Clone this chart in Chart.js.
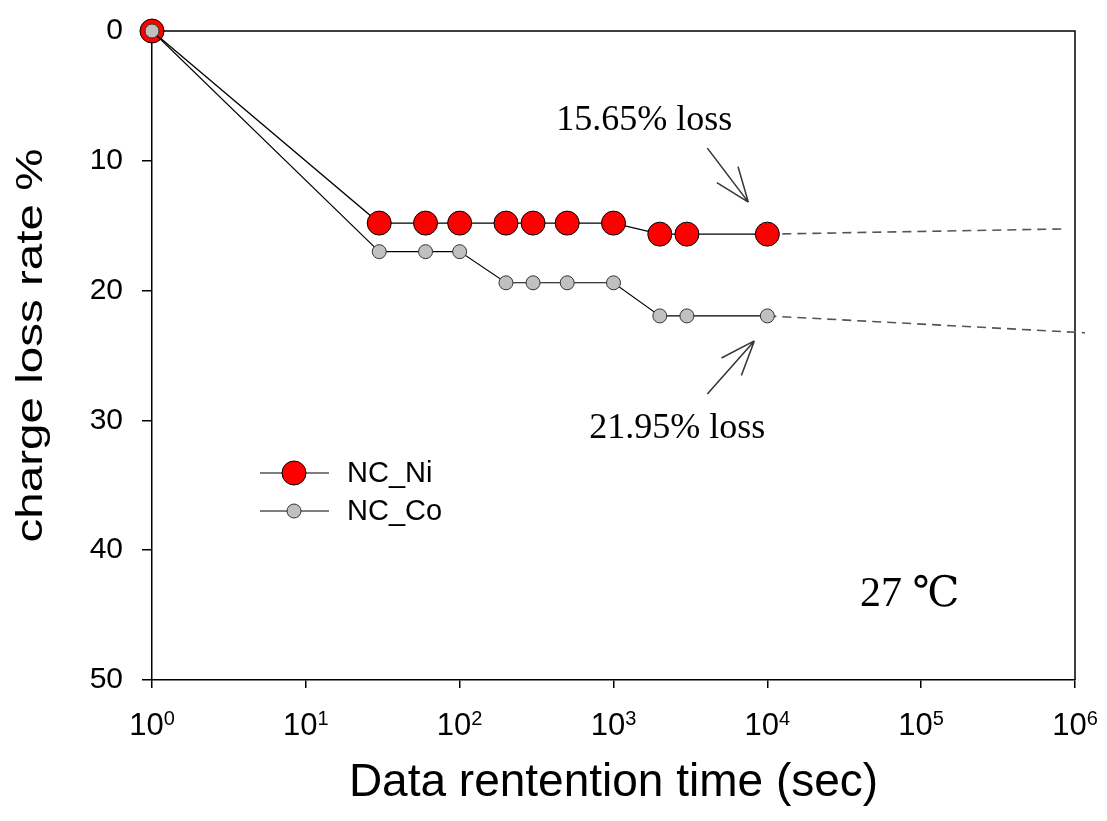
<!DOCTYPE html>
<html>
<head>
<meta charset="utf-8">
<script src="https://cdn.jsdelivr.net/npm/chart.js@4.4.1/dist/chart.umd.min.js"></script>
<style>
  html, body { margin: 0; padding: 0; background: #ffffff; }
  #wrap { width: 1107px; height: 821px; }
</style>
</head>
<body>
<div id="wrap"><canvas id="c" width="1107" height="821"></canvas></div>
<script>
// ---- data ----
const seriesNames = ['NC_Ni', 'NC_Co'];
const timeNi = [1, 30, 60, 100, 200, 300, 500, 1000, 2000, 3000, 10000];
const lossNi = [0, 14.8, 14.8, 14.8, 14.8, 14.8, 14.8, 14.8, 15.65, 15.65, 15.65];
const timeCo = [1, 30, 60, 100, 200, 300, 500, 1000, 2000, 3000, 10000];
const lossCo = [0, 17.0, 17.0, 17.0, 19.4, 19.4, 19.4, 19.4, 21.95, 21.95, 21.95];
const extTimeNi = [10000, 840000];
const extLossNi = [15.65, 15.25];
const extTimeCo = [10000, 1160000];
const extLossCo = [21.95, 23.25];
const yTickValues = [0, 10, 20, 30, 40, 50];
const xTickExponents = [0, 1, 2, 3, 4, 5, 6];
const annotationTexts = ['15.65% loss', '21.95% loss', '27 \u2103'];
const xTitle = 'Data rentention time (sec)';
const yTitle = 'charge loss rate %';

const SANS = "'Liberation Sans', Arial, sans-serif";
const SERIF = "'Liberation Serif', 'Times New Roman', 'DejaVu Serif', serif";

function pts(xs, ys) { return xs.map((x, i) => ({ x: x, y: ys[i] })); }

const niStyle = { fill: '#ff0000', stroke: '#000000', r: 12 };
const coStyle = { fill: '#c0c0c0', stroke: '#333333', r: 7 };

const decorPlugin = {
  id: 'decor',
  beforeDatasetsDraw(chart) {
    const { ctx, chartArea: a } = chart;
    ctx.save();
    ctx.strokeStyle = '#000';
    ctx.lineWidth = 1.5;
    ctx.beginPath();
    ctx.moveTo(a.left, a.top);
    ctx.lineTo(a.right, a.top);
    ctx.lineTo(a.right, a.bottom);
    ctx.stroke();
    ctx.restore();
  },
  afterDraw(chart) {
    const { ctx, chartArea: a } = chart;
    const xs = chart.scales.x, ys = chart.scales.y;
    ctx.save();
    ctx.fillStyle = '#000';
    ctx.textBaseline = 'alphabetic';

    // x tick labels: 10^n with superscript exponent
    xTickExponents.forEach(e => {
      const px = xs.getPixelForValue(Math.pow(10, e));
      ctx.font = '31px ' + SANS;
      const wb = ctx.measureText('10').width;
      ctx.font = '20px ' + SANS;
      const we = ctx.measureText(String(e)).width;
      const x0 = px - (wb + we) / 2;
      ctx.font = '31px ' + SANS;
      ctx.fillText('10', x0, xs.top + 55);
      ctx.font = '20px ' + SANS;
      ctx.fillText(String(e), x0 + wb, xs.top + 45);
    });

    // y axis title (drawn elongated along its reading direction, as in the reference)
    ctx.save();
    ctx.font = '36px ' + SANS;
    const tw = ctx.measureText(yTitle).width;
    const midY = (a.top + a.bottom) / 2 - 10;
    ctx.translate(42, midY);
    ctx.rotate(-Math.PI / 2);
    ctx.scale(394 / tw, 1);
    ctx.textAlign = 'center';
    ctx.fillText(yTitle, 0, 0);
    ctx.restore();

    // annotations
    const pNi = { x: xs.getPixelForValue(10000), y: ys.getPixelForValue(15.65) };
    const pCo = { x: xs.getPixelForValue(10000), y: ys.getPixelForValue(21.95) };
    ctx.font = '36px ' + SERIF;
    ctx.fillText(annotationTexts[0], pNi.x - 211, pNi.y - 104);
    ctx.fillText(annotationTexts[1], pCo.x - 178, pCo.y + 122);
    ctx.font = '42px ' + SERIF;
    ctx.fillText(annotationTexts[2], 860, 606);

    function arrow(x1, y1, x2, y2) {
      const ang = Math.atan2(y2 - y1, x2 - x1);
      const hl = 37, ha = 21 * Math.PI / 180;
      ctx.strokeStyle = '#383838';
      ctx.lineWidth = 1.6;
      ctx.beginPath();
      ctx.moveTo(x1, y1); ctx.lineTo(x2, y2);
      ctx.moveTo(x2, y2);
      ctx.lineTo(x2 - hl * Math.cos(ang - ha), y2 - hl * Math.sin(ang - ha));
      ctx.moveTo(x2, y2);
      ctx.lineTo(x2 - hl * Math.cos(ang + ha), y2 - hl * Math.sin(ang + ha));
      ctx.stroke();
    }
    arrow(pNi.x - 60, pNi.y - 86, pNi.x - 19, pNi.y - 32);
    arrow(pCo.x - 60, pCo.y + 78, pCo.x - 13, pCo.y + 25);

    // legend
    const legend = [
      { name: seriesNames[0], st: niStyle, y: 473 },
      { name: seriesNames[1], st: coStyle, y: 511 }
    ];
    legend.forEach(l => {
      ctx.strokeStyle = '#000';
      ctx.lineWidth = 1.2;
      ctx.beginPath();
      ctx.moveTo(260, l.y); ctx.lineTo(329, l.y);
      ctx.stroke();
      ctx.beginPath();
      ctx.arc(294, l.y, l.st.r, 0, Math.PI * 2);
      ctx.fillStyle = l.st.fill;
      ctx.fill();
      ctx.strokeStyle = l.st.stroke;
      ctx.lineWidth = 1;
      ctx.stroke();
      ctx.fillStyle = '#000';
      ctx.font = '29px ' + SANS;
      ctx.textBaseline = 'middle';
      ctx.fillText(l.name, 347, l.y + 1);
      ctx.textBaseline = 'alphabetic';
    });
    ctx.restore();
  }
};

new Chart(document.getElementById('c'), {
  type: 'line',
  data: {
    datasets: [
      {
        label: seriesNames[0],
        data: pts(timeNi, lossNi),
        borderColor: '#000', borderWidth: 1.3,
        pointRadius: niStyle.r, pointBackgroundColor: niStyle.fill,
        pointBorderColor: niStyle.stroke, pointBorderWidth: 1,
        clip: false, order: 2
      },
      {
        label: seriesNames[1],
        data: pts(timeCo, lossCo),
        borderColor: '#000', borderWidth: 1.1,
        pointRadius: coStyle.r, pointBackgroundColor: coStyle.fill,
        pointBorderColor: coStyle.stroke, pointBorderWidth: 1,
        clip: false, order: 1
      },
      {
        label: 'ext Ni',
        data: pts(extTimeNi, extLossNi),
        borderColor: '#555', borderWidth: 1.6, borderDash: [9, 6],
        pointRadius: 0, clip: false, order: 5
      },
      {
        label: 'ext Co',
        data: pts(extTimeCo, extLossCo),
        borderColor: '#555', borderWidth: 1.6, borderDash: [9, 6],
        pointRadius: 0, clip: false, order: 5
      }
    ]
  },
  options: {
    responsive: false,
    animation: false,
    devicePixelRatio: 1,
    layout: { padding: { top: 31, right: 32, left: 0, bottom: 0 } },
    plugins: { legend: { display: false }, tooltip: { enabled: false } },
    scales: {
      x: {
        type: 'logarithmic',
        min: 1, max: 1e6,
        afterBuildTicks: s => { s.ticks = xTickExponents.map(e => ({ value: Math.pow(10, e) })); },
        afterFit: s => { s.height = 141; s.paddingLeft = 0; s.paddingRight = 0; },
        ticks: { display: false },
        grid: { drawOnChartArea: false, drawTicks: true, tickLength: 8, color: '#000', lineWidth: 1.5 },
        border: { display: true, color: '#000', width: 1.5 },
        title: { display: true, text: xTitle, color: '#000', font: { family: SANS, size: 46 }, padding: { top: 0, bottom: 10 } }
      },
      y: {
        type: 'linear',
        reverse: true,
        min: 0, max: 50,
        afterBuildTicks: s => { s.ticks = yTickValues.map(v => ({ value: v })); },
        afterFit: s => { s.width = 152; s.paddingTop = 0; s.paddingBottom = 0; },
        ticks: { color: '#000', font: { family: SANS, size: 30 }, padding: 19 },
        grid: { drawOnChartArea: false, drawTicks: true, tickLength: 10, color: '#000', lineWidth: 1.5 },
        border: { display: true, color: '#000', width: 1.5 },
        title: { display: false }
      }
    }
  },
  plugins: [decorPlugin]
});
</script>
</body>
</html>
